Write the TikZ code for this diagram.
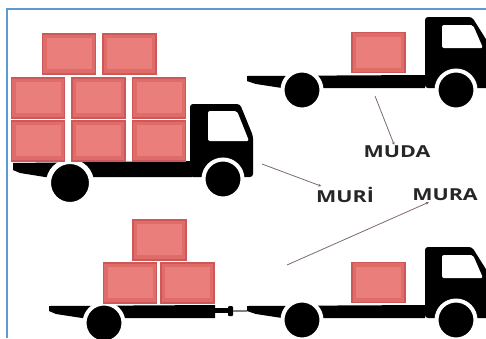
\documentclass[tikz,border=0pt]{standalone}
\usepackage{fontspec}
\setmainfont{Open Sans}
\usetikzlibrary{arrows.meta}

\definecolor{cratefill}{RGB}{224,108,106}
\definecolor{crateedge}{RGB}{206,88,88}
\definecolor{cratelight}{RGB}{233,126,122}
\definecolor{frameblue}{RGB}{91,155,213}
\definecolor{pointergray}{RGB}{125,105,105}

\tikzset{
  crate/.style={rectangle, inner sep=0pt, minimum width=53pt, minimum height=40pt,
    fill=cratefill, draw=crateedge, line width=1.2pt,
    path picture={\fill[cratelight] ([shift={(4pt,5pt)}]path picture bounding box.south west)
      rectangle ([shift={(-4pt,-4pt)}]path picture bounding box.north east);}},
  wheel/.style={circle, inner sep=0pt, minimum size=39pt, fill=black, draw=white, line width=4pt},
  tag/.style={font=\bfseries\fontsize{16.5}{18}\selectfont, text=black!85, inner sep=1pt},
  pointer/.style={draw=pointergray, line width=0.8pt, -{Stealth[length=3pt,width=3pt]}},
}

\begin{document}
\begin{tikzpicture}[x=1pt, y=-1pt]
\useasboundingbox (0,0) rectangle (486,338);
\clip (0,0) rectangle (486,338);
\draw[frameblue, line width=1.5pt] (7,338) -- (7,9) -- (486,9);

% big truck, full load
\fill (13,163) -- (192,161) -- (192,177) -- (45,177) -- (20,173) -- (13,170) -- cycle;
\fill[rounded corners=3pt] (190,177) -- (190,104) -- (240,104) -- (253,136) -- (253,177) -- cycle;
\fill[white, rounded corners=2pt] (208,111) -- (237,111) -- (249,141) -- (208,141) -- cycle;
\node[wheel, minimum size=43pt, line width=5pt] (rear-big) at (70,183) {};
\node[wheel] (front-big) at (223,179) {};
\node[crate] (big-a) at (69,54) {};
\node[crate] (big-b) at (129.5,54) {};
\node[crate] (big-c) at (38,98) {};
\node[crate] (big-d) at (98.5,98) {};
\node[crate] (big-e) at (159,98) {};
\node[crate] (big-f) at (38,141) {};
\node[crate] (big-g) at (98.5,141) {};
\node[crate] (big-h) at (159,141) {};

% flatbed trucks, one crate each
\foreach \dy/\k in {0/top, 230/low}{
  \begin{scope}[shift={(0,\dy)}]
    \fill (247,76) -- (425,75) -- (425,88) -- (282,88) -- (256,84) -- (247,81) -- cycle;
    \fill[rounded corners=3pt] (425,88) -- (425,17) -- (472,17) -- (494,52) -- (494,88) -- cycle;
    \fill[white, rounded corners=2pt] (442,25) -- (473,25) -- (483,48) -- (442,48) -- cycle;
    \node[wheel] (rear-\k) at (302,90) {};
    \node[wheel] (front-\k) at (456,90) {};
    \node[crate] (load-\k) at (378.5,52.5) {};
  \end{scope}
}

% trailer hooked on the lower truck
\fill (49,306) -- (215,305) -- (215,318) -- (82,318) -- (56,314) -- (49,311) -- cycle;
\fill (215,308) rectangle (228,313);
\fill[rounded corners=1pt] (228,306) rectangle (233,316);
\draw[gray, line width=1.2pt] (233,311) -- (247,311);
\node[wheel] (rear-trailer) at (104,323) {};
\node[crate] (trailer-a) at (159.5,240) {};
\node[crate] (trailer-b) at (130,283) {};
\node[crate] (trailer-c) at (187.5,283) {};

% labels
\node[tag] (muda) at (397,152) {\scalebox{1.3}[1]{MUDA}};
\node[tag] (muri) at (345,195) {\scalebox{1.3}[1]{MURİ}};
\node[tag] (mura) at (445,195) {\scalebox{1.3}[1]{MURA}};

\coordinate (bed-top) at (375,96);
\coordinate (cab-big) at (262,164);
\coordinate (bed-trailer) at (287,265);
\draw[pointer] (bed-top) -- (muda);
\draw[pointer] (cab-big) -- (muri);
\draw[pointer] (bed-trailer) -- (mura);
\end{tikzpicture}
\end{document}
